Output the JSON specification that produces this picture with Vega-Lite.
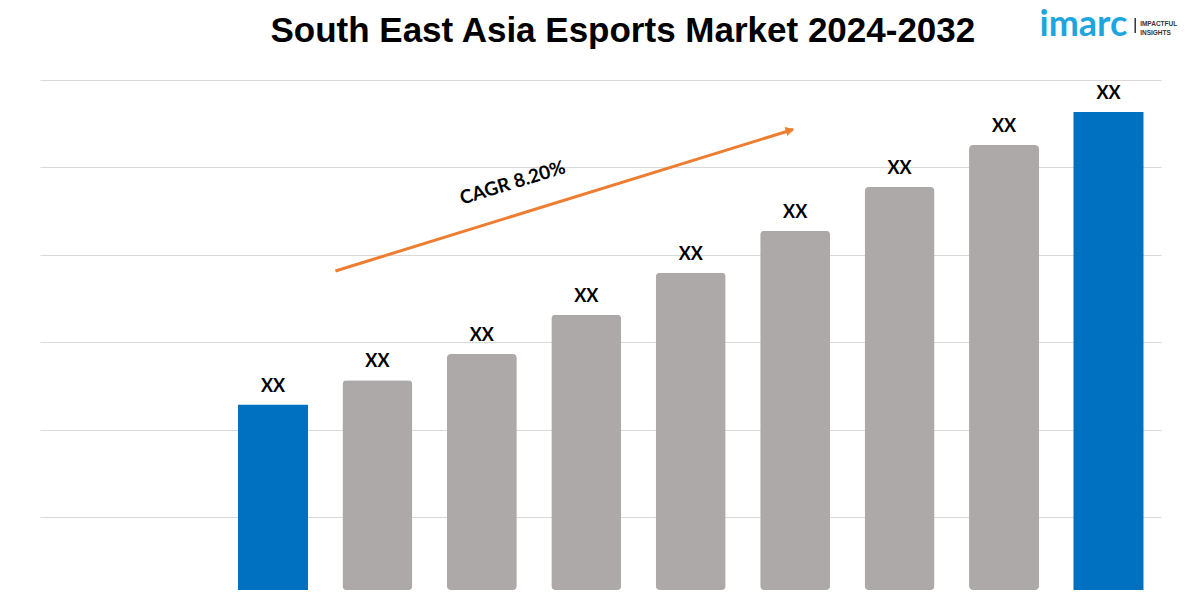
{
  "$schema": "https://vega.github.io/schema/vega-lite/v6.json",
  "width": 1121,
  "height": 510,
  "autosize": {"type": "none"},
  "padding": {"left": 40, "top": 80, "right": 39, "bottom": 10},
  "background": "white",
  "config": {"view": {"stroke": null}},
  "datasets": {
    "bars": [
      {"year": 2024, "value": 21.2, "label": "XX"},
      {"year": 2025, "value": 24.0, "label": "XX"},
      {"year": 2026, "value": 27.0, "label": "XX"},
      {"year": 2027, "value": 31.5, "label": "XX"},
      {"year": 2028, "value": 36.3, "label": "XX"},
      {"year": 2029, "value": 41.1, "label": "XX"},
      {"year": 2030, "value": 46.1, "label": "XX"},
      {"year": 2031, "value": 50.9, "label": "XX"},
      {"year": 2032, "value": 54.7, "label": "XX"}
    ],
    "arrow": [
      {"x": 2024.598, "y": 36.5, "x2": 2028.98, "y2": 52.68}
    ],
    "arrowhead": [
      {"x": 2028.95, "y": 52.6}
    ],
    "cagr": [
      {"x": 2026.296, "y": 46.57, "text": "CAGR 8.20%"}
    ],
    "heading": [
      {"x": 2027.35, "y": 62.7, "text": "South East Asia Esports Market 2024-2032"}
    ],
    "logo": [
      {"x": 2031.34, "y": 63.39, "text": "imarc"}
    ],
    "separator": [
      {"x": 2032.256, "y": 65.45, "y2": 63.73}
    ],
    "tagline": [
      {"x": 2032.303, "y": 64.53, "text": "IMPACTFUL"},
      {"x": 2032.303, "y": 63.5, "text": "INSIGHTS"}
    ]
  },
  "layer": [
    {
      "data": {"name": "bars"},
      "mark": {"type": "bar", "width": 70, "color": "#ADA9A9", "cornerRadiusTopLeft": 4, "cornerRadiusTopRight": 4, "cornerRadiusBottomLeft": 4, "cornerRadiusBottomRight": 4},
      "transform": [{"filter": "datum.year != 2024 && datum.year != 2032"}],
      "encoding": {
        "x": {"field": "year", "type": "quantitative", "scale": {"domain": [2021.817, 2032.455], "nice": false, "zero": false}, "axis": null},
        "y": {"field": "value", "type": "quantitative", "scale": {"domain": [0, 58.35], "nice": false}, "axis": {"values": [8.35, 18.35, 28.35, 38.35, 48.35, 58.35], "grid": true, "gridColor": "#D9D9D9", "gridWidth": 1, "domain": false, "ticks": false, "labels": false, "title": null}}
      }
    },
    {
      "data": {"name": "bars"},
      "mark": {"type": "bar", "width": 70, "color": "#0070C0"},
      "transform": [{"filter": "datum.year == 2024 || datum.year == 2032"}],
      "encoding": {
        "x": {"field": "year", "type": "quantitative"},
        "y": {"field": "value", "type": "quantitative"}
      }
    },
    {
      "data": {"name": "bars"},
      "mark": {"type": "text", "font": "Lato", "fontWeight": "bold", "fontSize": 18, "color": "#000000", "baseline": "alphabetic", "dy": -13},
      "encoding": {
        "x": {"field": "year", "type": "quantitative"},
        "y": {"field": "value", "type": "quantitative"},
        "text": {"field": "label"}
      }
    },
    {
      "data": {"name": "arrow"},
      "mark": {"type": "rule", "color": "#ED7D31", "strokeWidth": 3},
      "encoding": {
        "x": {"field": "x", "type": "quantitative"},
        "y": {"field": "y", "type": "quantitative"},
        "x2": {"field": "x2"},
        "y2": {"field": "y2"}
      }
    },
    {
      "data": {"name": "arrowhead"},
      "mark": {"type": "point", "shape": "triangle-right", "filled": true, "color": "#ED7D31", "size": 90, "angle": 343, "opacity": 1},
      "encoding": {
        "x": {"field": "x", "type": "quantitative"},
        "y": {"field": "y", "type": "quantitative"}
      }
    },
    {
      "data": {"name": "cagr"},
      "mark": {"type": "text", "font": "Lato", "fontWeight": "bold", "fontSize": 19, "color": "#000000", "angle": 343, "align": "center", "baseline": "middle"},
      "encoding": {
        "x": {"field": "x", "type": "quantitative"},
        "y": {"field": "y", "type": "quantitative"},
        "text": {"field": "text"}
      }
    },
    {
      "data": {"name": "heading"},
      "mark": {"type": "text", "font": "Liberation Sans", "fontWeight": "bold", "fontSize": 35, "color": "#000000", "align": "center", "baseline": "alphabetic", "clip": false},
      "encoding": {
        "x": {"field": "x", "type": "quantitative"},
        "y": {"field": "y", "type": "quantitative"},
        "text": {"field": "text"}
      }
    },
    {
      "data": {"name": "logo"},
      "mark": {"type": "text", "font": "Lato", "fontWeight": "bold", "fontSize": 36, "color": "#1EA5DE", "align": "left", "baseline": "alphabetic", "clip": false},
      "encoding": {
        "x": {"field": "x", "type": "quantitative"},
        "y": {"field": "y", "type": "quantitative"},
        "text": {"field": "text"}
      }
    },
    {
      "data": {"name": "separator"},
      "mark": {"type": "rule", "color": "#333333", "strokeWidth": 1.5, "clip": false},
      "encoding": {
        "x": {"field": "x", "type": "quantitative"},
        "y": {"field": "y", "type": "quantitative"},
        "y2": {"field": "y2"}
      }
    },
    {
      "data": {"name": "tagline"},
      "mark": {"type": "text", "font": "Liberation Sans", "fontWeight": "bold", "fontSize": 6.5, "color": "#333333", "align": "left", "baseline": "alphabetic", "clip": false},
      "encoding": {
        "x": {"field": "x", "type": "quantitative"},
        "y": {"field": "y", "type": "quantitative"},
        "text": {"field": "text"}
      }
    }
  ]
}
